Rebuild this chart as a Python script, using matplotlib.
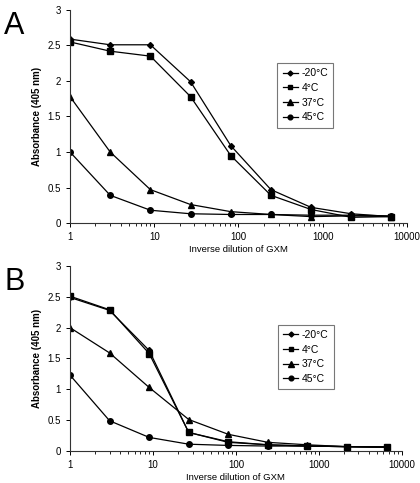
import matplotlib
matplotlib.use('Agg')
import matplotlib.pyplot as plt
from matplotlib.ticker import LogLocator, NullFormatter

plt.rcParams['font.family'] = ['Liberation Sans', 'DejaVu Sans']

dilution = [1, 3, 9, 27, 81, 243, 729, 2187, 6561]
labels = ['-20°C', '4°C', '37°C', '45°C']
markers = ['D', 's', '^', 'o']
msizes = [3, 4, 4.5, 4]

# panel A
a_m20 = [2.59, 2.51, 2.51, 1.99, 1.09, 0.47, 0.22, 0.13, 0.09]
a_4 = [2.55, 2.42, 2.35, 1.78, 0.95, 0.39, 0.19, 0.08, 0.09]
a_37 = [1.78, 1.00, 0.47, 0.26, 0.16, 0.12, 0.09, 0.10, 0.09]
a_45 = [1.00, 0.39, 0.18, 0.13, 0.12, 0.12, 0.11, 0.11, 0.10]

# panel B
b_m20 = [2.49, 2.28, 1.63, 0.30, 0.15, 0.10, 0.08, 0.07, 0.06]
b_4 = [2.51, 2.29, 1.58, 0.30, 0.14, 0.10, 0.08, 0.07, 0.07]
b_37 = [2.00, 1.59, 1.03, 0.51, 0.27, 0.14, 0.10, 0.07, 0.06]
b_45 = [1.23, 0.49, 0.22, 0.11, 0.09, 0.08, 0.08, 0.07, 0.06]

fig = plt.figure(figsize=(4.2, 4.83), dpi=100)
axA = fig.add_axes([0.1667, 0.5383, 0.802, 0.441])
axB = fig.add_axes([0.1667, 0.0663, 0.790, 0.383])


def draw(ax, series, legend_pos):
    for s, lab, m, ms in zip(series, labels, markers, msizes):
        ax.plot(dilution, s, color='black', lw=0.9, marker=m, ms=ms,
                markerfacecolor='black', markeredgecolor='black', label=lab)
    ax.set_xscale('log')
    ax.set_xlim(1, 10000)
    ax.set_ylim(0, 3)
    ax.set_yticks([0, 0.5, 1, 1.5, 2, 2.5, 3])
    ax.set_yticklabels(['0', '0.5', '1', '1.5', '2', '2.5', '3'])
    ax.set_xticks([1, 10, 100, 1000, 10000])
    ax.set_xticklabels(['1', '10', '100', '1000', '10000'])
    ax.xaxis.set_minor_locator(LogLocator(base=10, subs=range(2, 10)))
    ax.xaxis.set_minor_formatter(NullFormatter())
    for sp in ['top', 'right']:
        ax.spines[sp].set_visible(False)
    for sp in ['left', 'bottom']:
        ax.spines[sp].set_linewidth(0.8)
        ax.spines[sp].set_color('#333333')
    ax.tick_params(axis='both', which='major', labelsize=7, length=3, width=0.7, direction='out')
    ax.tick_params(axis='x', which='minor', length=2, width=0.6)
    ax.set_xlabel('Inverse dilution of GXM', fontsize=6.8, labelpad=2)
    ax.set_ylabel('Absorbance (405 nm)', fontsize=7, fontweight='bold', labelpad=4)
    leg = ax.legend(loc='upper left', bbox_to_anchor=legend_pos, fontsize=7.5,
                    frameon=True, fancybox=False, edgecolor='#555555',
                    handlelength=1.5, handletextpad=0.3, labelspacing=0.45,
                    borderpad=0.5, markerscale=0.85)
    leg.get_frame().set_linewidth(0.8)


draw(axA, [a_m20, a_4, a_37, a_45], (0.6, 0.775))
draw(axB, [b_m20, b_4, b_37, b_45], (0.61, 0.71))

fig.text(0.01, 0.93, 'A', fontsize=22)
fig.text(0.01, 0.40, 'B', fontsize=22)

fig.savefig('out.png', dpi=100)
